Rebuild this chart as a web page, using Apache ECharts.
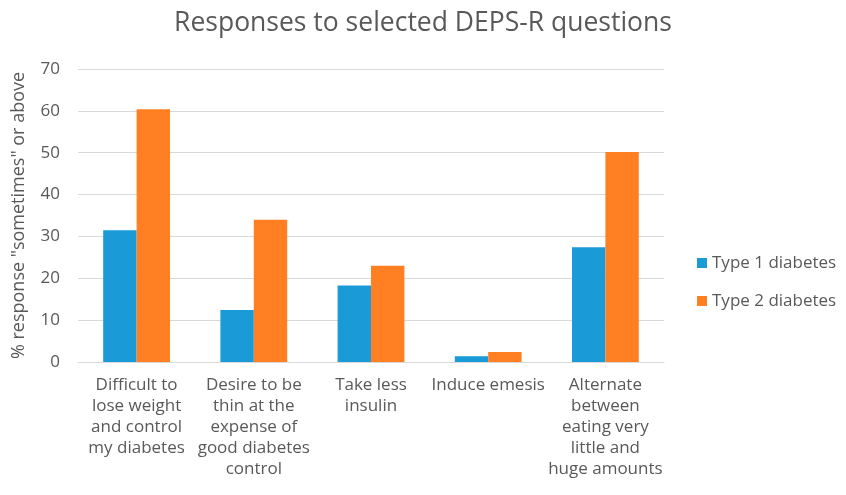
<!DOCTYPE html>
<html><head><meta charset="utf-8">
<script src="https://cdn.jsdelivr.net/npm/echarts@6/dist/echarts.min.js"></script>
<style>html,body{margin:0;padding:0;background:#fff}#c{width:846px;height:495px}</style>
</head><body><div id="c"></div>
<script>
const categories = [
  "Difficult to\nlose weight\nand control\nmy diabetes",
  "Desire to be\nthin at the\nexpense of\ngood diabetes\ncontrol",
  "Take less\ninsulin",
  "Induce emesis",
  "Alternate\nbetween\neating very\nlittle and\nhuge amounts"
];
const type1 = [31.5, 12.4, 18.3, 1.4, 27.4];
const type2 = [60.4, 34.0, 23.0, 2.4, 50.2];
const yTicks = { min: 0, max: 70, interval: 10 };
const seriesNames = ["Type 1 diabetes", "Type 2 diabetes"];

const font = "'Open Sans', sans-serif";
const chart = echarts.init(document.getElementById('c'), null, {renderer: 'canvas'});
chart.setOption({
  animation: false,
  title: { text: "Responses to selected DEPS-R questions", left: 418, top: 5, textAlign: 'center',
    textStyle: { fontFamily: font, fontSize: 26.5, fontWeight: 'normal', color: '#595959' } },
  legend: { orient: 'vertical', left: 692, top: 248, itemWidth: 10, itemHeight: 10, itemGap: 18,
    icon: 'rect', data: seriesNames,
    textStyle: { fontFamily: font, fontSize: 17, color: '#595959', lineHeight: 20 } },
  grid: { left: 78, right: 182, top: 69, bottom: 133, containLabel: false },
  xAxis: { type: 'category', data: categories,
    axisLine: { lineStyle: { color: '#d9d9d9' } }, axisTick: { show: false },
    axisLabel: { interval: 0, fontFamily: font, fontSize: 17, color: '#595959', lineHeight: 21, margin: 13 } },
  yAxis: { type: 'value', min: yTicks.min, max: yTicks.max, interval: yTicks.interval,
    name: '% response "sometimes" or above', nameLocation: 'middle', nameGap: 50,
    nameTextStyle: { fontFamily: font, fontSize: 18, color: '#595959' },
    axisLabel: { fontFamily: font, fontSize: 17, color: '#595959', margin: 18 },
    splitLine: { lineStyle: { color: '#d9d9d9', width: 1 } } },
  series: [
    { name: seriesNames[0], type: 'bar', data: type1, barGap: '0%', barCategoryGap: '43%',
      itemStyle: { color: '#1a9ad6' } },
    { name: seriesNames[1], type: 'bar', data: type2, barGap: '0%', barCategoryGap: '43%',
      itemStyle: { color: '#ff7f22' } }
  ]
});
</script></body></html>
